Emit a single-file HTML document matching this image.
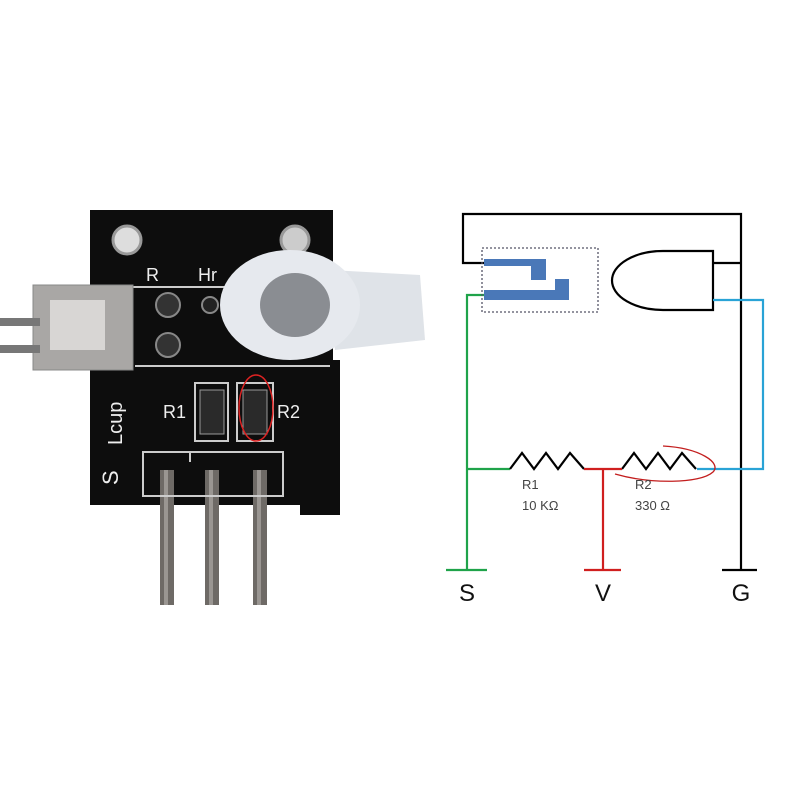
<!DOCTYPE html>
<html><head><style>html,body{margin:0;padding:0;background:#fff}svg{display:block}</style></head>
<body>
<svg width="800" height="800" viewBox="0 0 800 800" xmlns="http://www.w3.org/2000/svg" font-family="Liberation Sans, DejaVu Sans, sans-serif">
<rect width="800" height="800" fill="#fff"/>
<!-- PCB photo approximation -->
<path d="M90 210 L333 210 L333 360 L340 360 L340 515 L300 515 L300 505 L90 505 Z" fill="#0d0d0d"/>
<rect x="160" y="470" width="14" height="135" fill="#6e6a66"/>
<rect x="205" y="470" width="14" height="135" fill="#6e6a66"/>
<rect x="253" y="470" width="14" height="135" fill="#6e6a66"/>
<rect x="164" y="470" width="4" height="135" fill="#9a9692"/>
<rect x="209" y="470" width="4" height="135" fill="#9a9692"/>
<rect x="257" y="470" width="4" height="135" fill="#9a9692"/>
<rect x="143" y="452" width="140" height="44" fill="none" stroke="#ccc" stroke-width="2"/>
<line x1="190" y1="452" x2="190" y2="462" stroke="#ccc" stroke-width="2"/>
<circle cx="127" cy="240" r="14" fill="#ddd" stroke="#999" stroke-width="3"/>
<circle cx="295" cy="240" r="14" fill="#ccc" stroke="#999" stroke-width="3"/>
<circle cx="168" cy="305" r="12" fill="#333" stroke="#888" stroke-width="2"/>
<circle cx="168" cy="345" r="12" fill="#333" stroke="#888" stroke-width="2"/>
<circle cx="210" cy="305" r="8" fill="#222" stroke="#888" stroke-width="2"/>
<line x1="130" y1="287" x2="230" y2="287" stroke="#ccc" stroke-width="2"/>
<line x1="135" y1="366" x2="330" y2="366" stroke="#ccc" stroke-width="2"/>
<rect x="195" y="383" width="33" height="58" fill="none" stroke="#ccc" stroke-width="2"/>
<rect x="237" y="383" width="36" height="58" fill="none" stroke="#ccc" stroke-width="2"/>
<rect x="200" y="390" width="24" height="44" fill="#2a2a2a" stroke="#999"/>
<rect x="243" y="390" width="24" height="44" fill="#2a2a2a" stroke="#999"/>
<text x="163" y="418" fill="#eee" font-size="18">R1</text>
<text x="277" y="418" fill="#eee" font-size="18">R2</text>
<text x="146" y="281" fill="#eee" font-size="18">R</text>
<text x="198" y="281" fill="#eee" font-size="18">Hr</text>
<text x="118" y="485" fill="#eee" font-size="22" transform="rotate(-90 118 485)">S</text>
<text x="122" y="445" fill="#eee" font-size="20" transform="rotate(-90 122 445)">Lcup</text>
<ellipse cx="256" cy="408" rx="17" ry="33" fill="none" stroke="#d22" stroke-width="1.5"/>
<rect x="33" y="285" width="100" height="85" fill="#a9a7a5" stroke="#888"/>
<rect x="50" y="300" width="55" height="50" fill="#d8d6d4"/>
<rect x="0" y="318" width="40" height="8" fill="#777"/>
<rect x="0" y="345" width="40" height="8" fill="#777"/>
<path d="M330 270 L420 275 L425 340 L335 350 Z" fill="#dfe3e8"/>
<ellipse cx="290" cy="305" rx="70" ry="55" fill="#e6e9ee"/>
<ellipse cx="295" cy="305" rx="35" ry="32" fill="#8a8d92"/>
<!-- Schematic -->
<g fill="none" stroke-width="2.2">
<path d="M484 263 H463 V214 H741 V570" stroke="#000"/>
<line x1="713" y1="263" x2="741" y2="263" stroke="#000"/>
<line x1="722" y1="570" x2="757" y2="570" stroke="#000"/>
<path d="M713 251 H663 A51 29.5 0 0 0 663 310 H713 Z" stroke="#000" fill="#fff"/>
<path d="M713 300 H763 V469 H697" stroke="#29a3d6"/>
<path d="M484 295 H467 V570 M446 570 H487 M467 469 H510" stroke="#1fa34a"/>
<path d="M510 469 L522 453 L534 469 L546 453 L558 469 L570 453 L584 469" stroke="#000"/>
<path d="M622 469 L634 453 L646 469 L658 453 L670 469 L682 453 L696 469" stroke="#000"/>
<path d="M584 469 H622 M603 469 V570 M584 570 H621" stroke="#d01f1f"/>
</g>
<rect x="482" y="248" width="116" height="64" fill="none" stroke="#556" stroke-width="1.3" stroke-dasharray="2,2"/>
<path d="M484 259 H546 V280 H531 V266 H484 Z" fill="#4a78b8"/>
<path d="M484 290 H555 V279 H569 V300 H484 Z" fill="#4a78b8"/>
<path d="M663 446 C700 448 722 463 713 472 C700 484 650 484 615 474" fill="none" stroke="#c31e1e" stroke-width="1.3"/>
<g fill="#444" font-size="13">
<text x="522" y="489">R1</text><text x="522" y="510">10 KΩ</text>
<text x="635" y="489">R2</text><text x="635" y="510">330 Ω</text>
</g>
<g fill="#111" font-size="24" text-anchor="middle">
<text x="467" y="601">S</text><text x="603" y="601">V</text><text x="741" y="601">G</text>
</g>
</svg>
</body></html>
